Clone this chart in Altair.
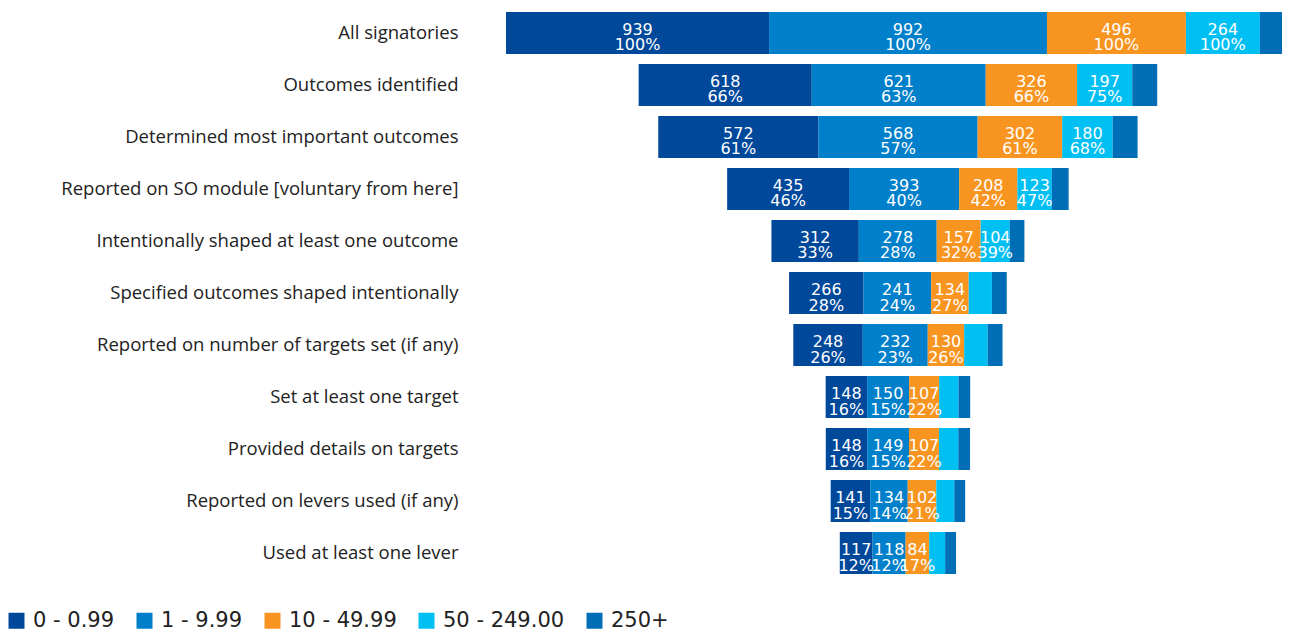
import altair as alt
import pandas as pd

rows = [
    "All signatories",
    "Outcomes identified",
    "Determined most important outcomes",
    "Reported on SO module [voluntary from here]",
    "Intentionally shaped at least one outcome",
    "Specified outcomes shaped intentionally",
    "Reported on number of targets set (if any)",
    "Set at least one target",
    "Provided details on targets",
    "Reported on levers used (if any)",
    "Used at least one lever",
]
cats = ["0 - 0.99", "1 - 9.99", "10 - 49.99", "50 - 249.00", "250+"]
colors = ["#00489A", "#0080CA", "#F89521", "#00BFF3", "#006EB7"]

v_micro = [939, 618, 572, 435, 312, 266, 248, 148, 148, 141, 117]
v_small = [992, 621, 568, 393, 278, 241, 232, 150, 149, 134, 118]
v_medium = [496, 326, 302, 208, 157, 134, 130, 107, 107, 102, 84]
v_large = [264, 197, 180, 123, 104, 83, 84, 69, 69, 64, 57]
v_xl = [107, 89, 89, 60, 52, 53, 53, 42, 42, 39, 39]

p_micro = [100, 66, 61, 46, 33, 28, 26, 16, 16, 15, 12]
p_small = [100, 63, 57, 40, 28, 24, 23, 15, 15, 14, 12]
p_medium = [100, 66, 61, 42, 32, 27, 26, 22, 22, 21, 17]
p_large = [100, 75, 68, 47, 39, 31, 32, 26, 26, 24, 22]
p_xl = [100, 83, 83, 56, 49, 50, 50, 39, 39, 36, 36]

show_micro = [True] * 11
show_small = [True] * 11
show_medium = [True] * 11
show_large = [True] * 5 + [False] * 6
show_xl = [False] * 11

series = [
    (v_micro, p_micro, show_micro),
    (v_small, p_small, show_small),
    (v_medium, p_medium, show_medium),
    (v_large, p_large, show_large),
    (v_xl, p_xl, show_xl),
]

recs = []
for ci, (vals, pcts, shows) in enumerate(series):
    for ri, r in enumerate(rows):
        recs.append({
            "row": r,
            "cat": cats[ci],
            "order": ci,
            "value": vals[ri],
            "pct": f"{pcts[ri]}%",
            "show": shows[ri],
        })
df = pd.DataFrame(recs)

AXIS_FONT = "Open Sans"
NUM_FONT = "DejaVu Sans"

base = alt.Chart(df).transform_stack(
    stack="value",
    as_=["x0", "x1"],
    groupby=["row"],
    offset="center",
    sort=[alt.SortField("order", order="ascending")],
).transform_calculate(
    mid="(datum.x0 + datum.x1) / 2"
)

xscale = alt.Scale(domain=[0, 2770], nice=False, zero=False)
yenc = alt.Y(
    "row:N",
    sort=rows,
    scale=alt.Scale(paddingInner=0.1923, paddingOuter=0.0769),
    axis=alt.Axis(
        title=None, domain=False, ticks=False, labelFontSize=18.5,
        labelFont=AXIS_FONT, labelColor="#222222", labelPadding=48,
        labelLimit=600,
    ),
)

bars = base.mark_bar(clip=True).encode(
    x=alt.X("x0:Q", scale=xscale, axis=None),
    x2="x1:Q",
    y=yenc,
    color=alt.Color(
        "cat:N",
        scale=alt.Scale(domain=cats, range=colors),
        sort=cats,
        legend=alt.Legend(
            title=None, orient="none", direction="horizontal",
            legendX=-500, legendY=602,
            symbolType="square", symbolSize=256,
            symbolStrokeWidth=0, symbolOpacity=1,
            labelFontSize=21, labelFont=NUM_FONT, labelColor="#222222",
            labelOffset=6, columnPadding=19,
        ),
    ),
    order=alt.Order("order:Q"),
)

txt = base.transform_filter("datum.show")
vals_txt = txt.mark_text(
    color="white", font=NUM_FONT, fontSize=16, baseline="middle", dy=-3
).encode(
    x=alt.X("mid:Q", scale=xscale),
    y=alt.Y("row:N", sort=rows),
    text="value:Q",
)
pct_txt = txt.mark_text(
    color="white", font=NUM_FONT, fontSize=16, baseline="middle", dy=12.5
).encode(
    x=alt.X("mid:Q", scale=xscale),
    y=alt.Y("row:N", sort=rows),
    text="pct:N",
)

chart = alt.layer(bars, vals_txt, pct_txt).properties(
    width=776,
    height=570,
    autosize=alt.AutoSizeParams(type="none"),
    padding={"left": 498, "top": 0, "right": 0, "bottom": 54},
).configure_view(stroke=None)

chart.save("out.html", embed_options={"renderer": "svg", "actions": False})
